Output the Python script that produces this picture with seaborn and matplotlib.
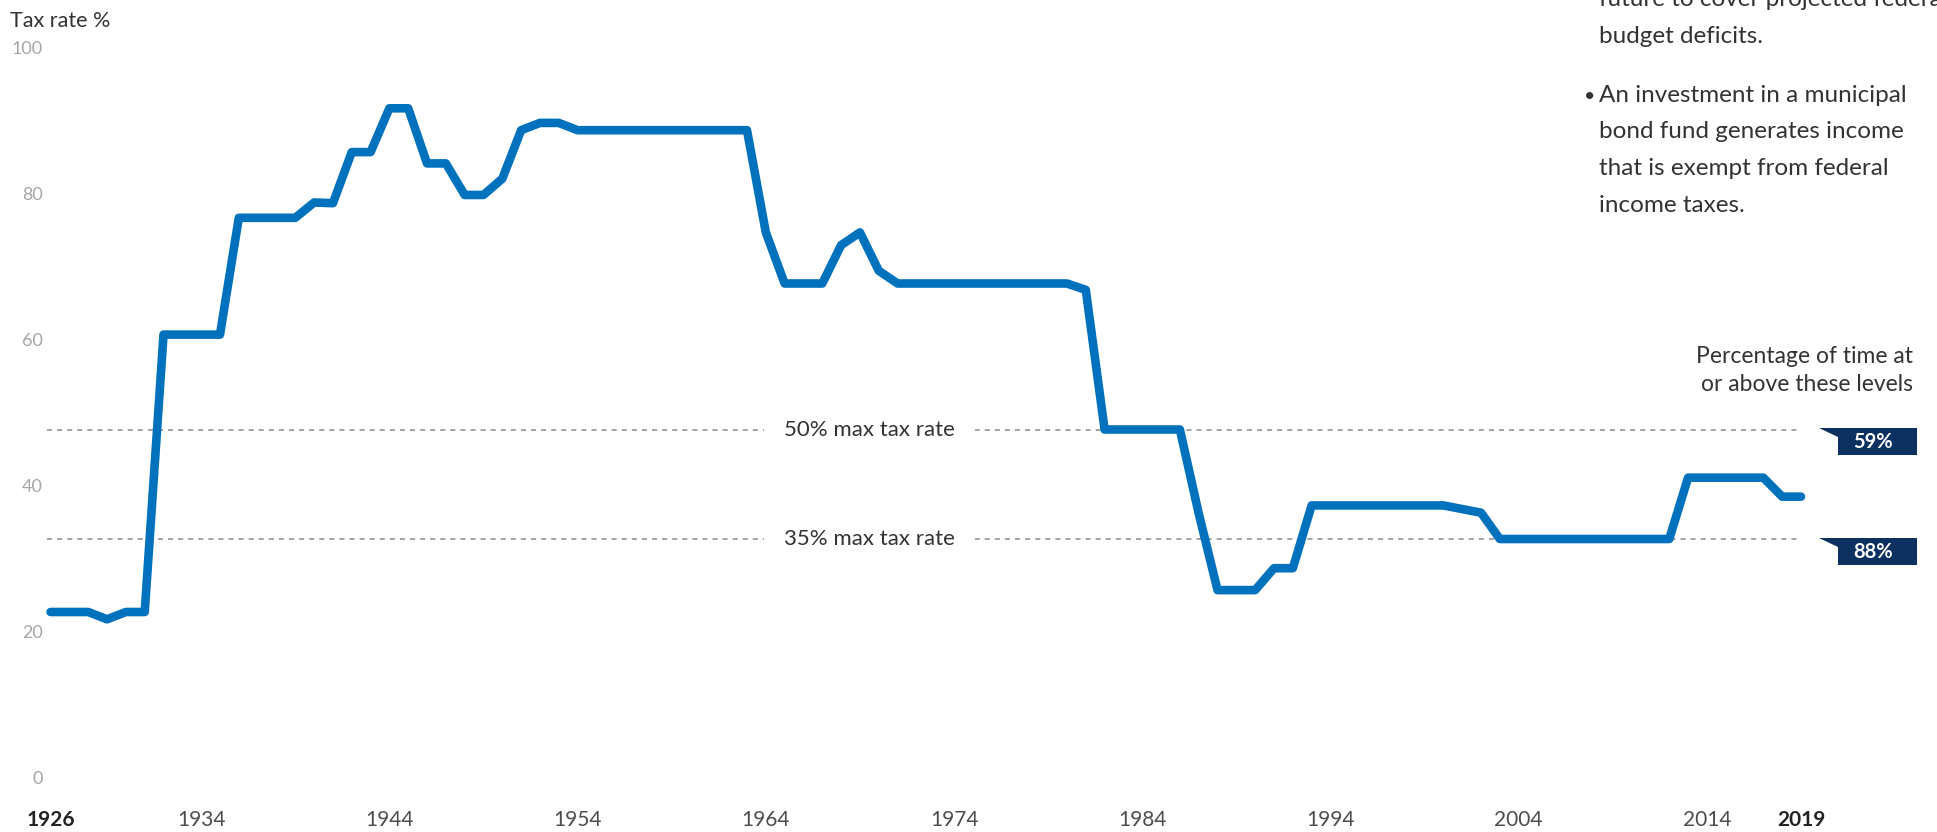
import matplotlib
matplotlib.use("Agg")
import matplotlib.pyplot as plt
import seaborn as sns
import pandas as pd
from matplotlib.patches import Polygon
from matplotlib.transforms import offset_copy

# ---------------- data ----------------
years = list(range(1926, 2020))
top_rate = [25, 25, 25, 24, 25, 25,
            63, 63, 63, 63,
            79, 79, 79, 79,
            81.1, 81,
            88, 88,
            94, 94,
            86.45, 86.45,
            82.13, 82.13,
            84.36,
            91,
            92, 92,
            91, 91, 91, 91, 91, 91, 91, 91, 91, 91,
            77,
            70, 70, 70,
            75.25, 77, 71.75,
            70, 70, 70, 70, 70, 70, 70, 70, 70, 70,
            69.13,
            50, 50, 50, 50, 50,
            38.5,
            28, 28, 28,
            31, 31,
            39.6, 39.6, 39.6, 39.6, 39.6, 39.6, 39.6, 39.6,
            39.1, 38.6,
            35, 35, 35, 35, 35, 35, 35, 35, 35, 35,
            43.4, 43.4, 43.4, 43.4, 43.4,
            40.8, 40.8]

y_ticks = [0, 20, 40, 60, 80, 100]
x_tick_labels = ["1926", "1934", "1944", "1954", "1964", "1974",
                 "1984", "1994", "2004", "2014", "2019"]
bold_labels = ["1926", "2019"]
ref_levels = [50, 35]
ref_texts = ["50% max tax rate", "35% max tax rate"]
badge_texts = ["59%", "88%"]
side_lines = ["future to cover projected federal", "budget deficits."]
bullet_lines = ["An investment in a municipal", "bond fund generates income",
                "that is exempt from federal", "income taxes."]

df = pd.DataFrame({"year": years, "rate": top_rate})

# ---------------- style ----------------
sns.set_theme(style="white")
plt.rcParams["font.family"] = ["Lato", "DejaVu Sans"]

W, H = 1937, 832
fig = plt.figure(figsize=(W / 100, H / 100), dpi=100)
fig.patch.set_facecolor("white")

# axes placement in pixels (top-down)
x0, x1 = 50.6, 1801.0
ytop, ybot = 64.5, 794.5
ax = fig.add_axes([x0 / W, (H - ybot) / H, (x1 - x0) / W, (ybot - ytop) / H])
ax.set_xlim(1926, 2019)
ax.set_ylim(0, 100)
ax.axis("off")

BLUE = "#0071bc"
NAVY = "#0c3060"
GRAY_DASH = "#8c8c8c"

# reference dashed lines with labels
for lvl, txt in zip(ref_levels, ref_texts):
    ax.hlines(lvl, 1925.8, 2018.9, colors=GRAY_DASH, linewidth=1.1,
              linestyles=(0, (3.3, 3.3)), zorder=1, clip_on=False)
    ax.text(1969.5, lvl, txt, ha="center", va="center", fontsize=16,
            color="#333333", zorder=2,
            bbox=dict(boxstyle="square,pad=0.9", fc="white", ec="none"))

# main line
sns.lineplot(data=df, x="year", y="rate", ax=ax, color=BLUE, linewidth=6.2,
             solid_capstyle="round", solid_joinstyle="round", clip_on=False,
             zorder=3)
ax.set_xlabel("")
ax.set_ylabel("")

# y tick labels (sit above their value)
ytr = offset_copy(ax.get_yaxis_transform(), fig=fig, x=-7.6, y=15, units="dots")
for v in y_ticks:
    ax.text(0, v, str(v), transform=ytr, ha="right", va="center",
            fontsize=13, color="#a6a6a6")

# x tick labels
xtr = offset_copy(ax.get_xaxis_transform(), fig=fig, x=0, y=-25, units="dots")
for lab in x_tick_labels:
    bold = lab in bold_labels
    ax.text(int(lab), 0, lab, transform=xtr, ha="center", va="center",
            fontsize=15, fontweight="bold" if bold else "normal",
            color="#222222" if bold else "#4d4d4d")

# axis title
fig.text(10 / W, 1 - 21 / H, "Tax rate %", ha="left", va="center",
         fontsize=15.5, color="#333333")

# badges
for lvl, txt in zip(ref_levels, badge_texts):
    yl = H - ax.transData.transform((2000, lvl))[1]  # top-down pixel
    top = yl - 1.5
    bot = top + 27
    notch = top + 9
    pts = [(1819, top), (1917, top), (1917, bot), (1838, bot), (1838, notch)]
    pts = [(px / W, 1 - py / H) for px, py in pts]
    fig.add_artist(Polygon(pts, closed=True, transform=fig.transFigure,
                           facecolor=NAVY, edgecolor="none"))
    fig.text(1873 / W, 1 - (top + 14) / H, txt, ha="center", va="center",
             fontsize=14.5, fontweight="bold", color="white")

fig.text(1913 / W, 1 - 363 / H, "Percentage of time at", ha="right",
         va="baseline", fontsize=16.5, color="#333333")
fig.text(1913 / W, 1 - 391 / H, "or above these levels", ha="right",
         va="baseline", fontsize=16.5, color="#333333")

# side notes (top right)
side_base = [6.5, 43]
for s, b in zip(side_lines, side_base):
    fig.text(1599 / W, 1 - b / H, s, ha="left", va="baseline",
             fontsize=17.5, color="#333333")
bullet_base = [102, 138.5, 175, 211.5]
fig.text(1584 / W, 1 - bullet_base[0] / H, "•", ha="left", va="baseline",
         fontsize=14, color="#333333")
for s, b in zip(bullet_lines, bullet_base):
    fig.text(1599 / W, 1 - b / H, s, ha="left", va="baseline",
             fontsize=17.5, color="#333333")

fig.savefig("out.png", dpi=100, facecolor="white")
